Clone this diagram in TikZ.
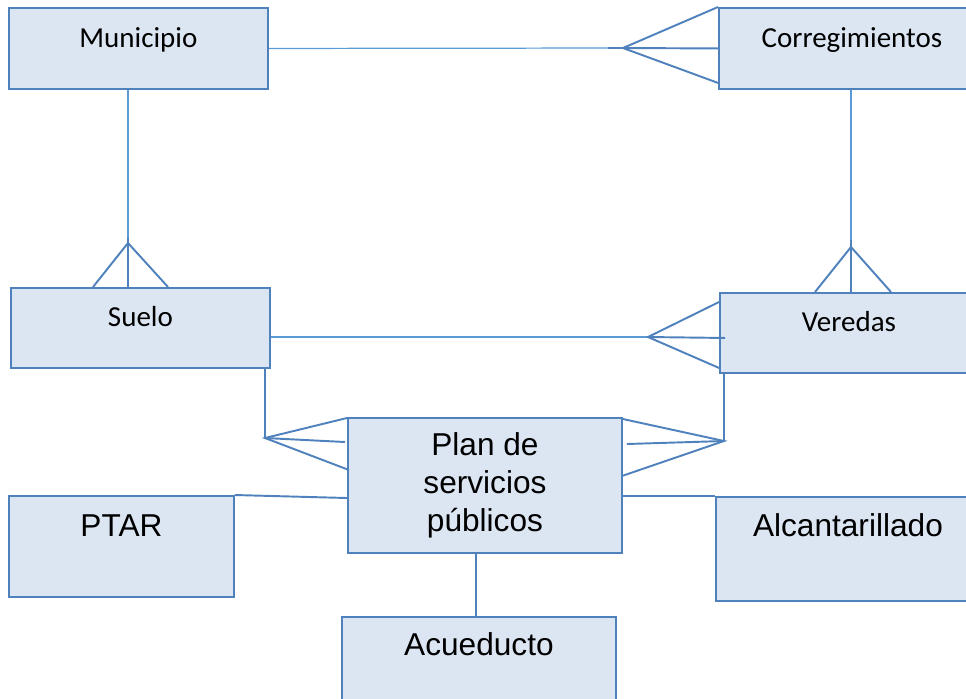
\documentclass[tikz,border=0pt]{standalone}
\usepackage{fontspec}
\usepackage{tikz}
\usetikzlibrary{calc}
\newfontfamily\carlitofont{Carlito}
\newfontfamily\arialfont{Liberation Sans}
\definecolor{erfill}{HTML}{DCE6F2}
\definecolor{erline}{HTML}{4F81BD}
\definecolor{erthin}{HTML}{5B9BD5}

\begin{document}
\begin{tikzpicture}[x=0.02cm, y=-0.02cm,
        box/.style={draw=erline, fill=erfill, line width=1.1pt, anchor=north west, inner sep=2pt, text=black},
        small/.style={box, font=\carlitofont\fontsize{16.5}{20}\selectfont, text height=12pt, text depth=13.5pt},
        big/.style={box, font=\arialfont\fontsize{18}{21.5}\selectfont},
        link/.style={erthin, line width=0.7pt},
        foot/.style={erline, line width=1.1pt}
    ]
        \useasboundingbox (0,0) rectangle (966,698);
        \clip (0,0) rectangle (966,698);

        \node (muni) [small, minimum width=5.18cm, minimum height=1.62cm] at (8,7) {Municipio};
        \node (correg) [small, minimum width=5.32cm, minimum height=1.62cm] at (718,7) {Corregimientos};
        \node (suelo) [small, minimum width=5.18cm, minimum height=1.6cm] at (10,287) {Suelo};
        \node (veredas) [small, minimum width=5.16cm, minimum height=1.6cm] at (719,292) {Veredas};
        \node (plan) [big, align=center, minimum width=5.48cm, minimum height=2.7cm] at (347,417) {Plan de\\servicios\\públicos};
        \node (ptar) [big, text height=13pt, text depth=23.8pt, minimum width=4.5cm, minimum height=2.02cm] at (8,495) {PTAR};
        \node (alcan) [big, text height=13pt, text depth=26.7pt, minimum width=5.28cm, minimum height=2.08cm] at (715,496) {Alcantarillado};
        \node (acue) [big, text height=13pt, text depth=27.8pt, minimum width=5.48cm, minimum height=2.08cm] at (341,616) {Acueducto};

        % Municipio -- Corregimientos
        \coordinate (fcorreg) at (623,48);
        \draw [link] (muni.east) -- (fcorreg);
        \draw [foot] ($(fcorreg)+(-15,0)$) -- (fcorreg);
        \draw [foot] (correg.north west) -- (fcorreg) -- ($(correg.south west)+(0,-7)$);
        \draw [foot] (fcorreg) -- (correg.west);

        % Municipio -- Suelo
        \coordinate (fsuelo) at (128,243);
        \draw [link] (muni.south -| fsuelo) -- (fsuelo);
        \draw [foot] ($(suelo.north west)+(83,0)$) -- (fsuelo) -- ($(suelo.north west)+(158,0)$);
        \draw [foot] ($(fsuelo)+(0,-5)$) -- (fsuelo |- suelo.north);

        % Corregimientos -- Veredas
        \coordinate (fveredas) at (851,247);
        \draw [link] (correg.south -| fveredas) -- (fveredas);
        \draw [foot] ($(veredas.north west)+(96,0)$) -- (fveredas) -- ($(veredas.north west)+(172,0)$);
        \draw [foot] ($(fveredas)+(0,-7)$) -- (fveredas |- veredas.north);

        % Suelo -- Veredas
        \coordinate (fvered2) at (648,337);
        \draw [link] (suelo.east |- fvered2) -- (fvered2);
        \draw [foot] ($(veredas.north west)+(0,10)$) -- (fvered2) -- ($(veredas.south west)+(0,-6)$);
        \draw [foot] (fvered2) -- ($(veredas.west)+(6,5)$);

        % Suelo -- Plan
        \coordinate (fplanL) at (265,438);
        \draw [foot] (fplanL |- suelo.south) -- (fplanL);
        \draw [foot] ($(plan.north west)+(0,1)$) -- (fplanL) -- ($(plan.north west)+(2,53)$);
        \draw [foot] (fplanL) -- ($(plan.north west)+(-2,25)$);

        % Veredas -- Plan
        \coordinate (fplanR) at (724,441);
        \draw [foot] (fplanR |- veredas.south) -- (fplanR);
        \draw [foot] ($(plan.north east)+(0,2)$) -- (fplanR) -- ($(plan.north east)+(-1,59)$);
        \draw [foot] (fplanR) -- ($(plan.north east)+(4,27)$);

        % Plan -- servicios
        \coordinate (pacue) at ($(plan.south)+(-9,0)$);
        \draw [foot] (ptar.north east) -- ($(plan.north west)+(0,81)$);
        \draw [foot] ($(plan.north east)+(0,79)$) -- (alcan.north west);
        \draw [foot] (pacue) -- (pacue |- acue.north);
    \end{tikzpicture}
\end{document}
